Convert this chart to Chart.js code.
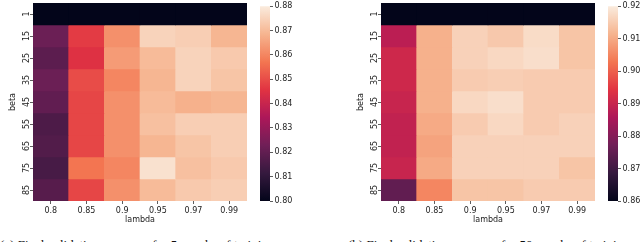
<!DOCTYPE html>
<html><head><meta charset="utf-8">
<script src="https://cdn.jsdelivr.net/npm/chart.js@4.4.0/dist/chart.umd.min.js"></script>
<style>
html,body{margin:0;padding:0;background:#fff;width:640px;height:242px;overflow:hidden;position:relative;}
canvas{position:absolute;top:0;}
.cap{position:absolute;top:238px;font-family:"Liberation Serif",serif;font-size:13px;line-height:13px;color:#111;white-space:nowrap;}
</style></head><body>
<canvas id="h1" width="250" height="228" style="left:0px"></canvas>
<canvas id="c1" width="60" height="228" style="left:255px"></canvas>
<canvas id="h2" width="250" height="228" style="left:348px"></canvas>
<canvas id="c2" width="60" height="228" style="left:603px"></canvas>
<div class="cap" style="left:0px">(a) Final validation accuracy for 5 epochs of training</div>
<div class="cap" style="left:348px">(b) Final validation accuracy for 50 epochs of training</div>
<script>
const lambdas = ['0.8', '0.85', '0.9', '0.95', '0.97', '0.99'];
const betas = ['1', '15', '25', '35', '45', '55', '65', '75', '85'];

const scoresA = [
  [0.800, 0.800, 0.800, 0.800, 0.800, 0.800],
  [0.822, 0.847, 0.862, 0.875, 0.874, 0.869],
  [0.819, 0.845, 0.864, 0.870, 0.875, 0.873],
  [0.822, 0.850, 0.860, 0.869, 0.875, 0.872],
  [0.820, 0.849, 0.862, 0.870, 0.868, 0.869],
  [0.816, 0.849, 0.862, 0.871, 0.874, 0.874],
  [0.817, 0.849, 0.862, 0.869, 0.872, 0.874],
  [0.815, 0.857, 0.860, 0.878, 0.871, 0.873],
  [0.818, 0.849, 0.862, 0.870, 0.873, 0.874]
];
const scoresB = [
  [0.860, 0.860, 0.860, 0.860, 0.860, 0.860],
  [0.888, 0.911, 0.916, 0.9146, 0.9176, 0.914],
  [0.891, 0.911, 0.916, 0.917, 0.918, 0.914],
  [0.891, 0.911, 0.915, 0.9155, 0.915, 0.915],
  [0.890, 0.911, 0.917, 0.918, 0.915, 0.915],
  [0.889, 0.910, 0.915, 0.917, 0.915, 0.916],
  [0.889, 0.909, 0.916, 0.916, 0.916, 0.916],
  [0.890, 0.910, 0.916, 0.916, 0.916, 0.914],
  [0.875, 0.905, 0.914, 0.914, 0.915, 0.915]
];
const rangeA = [0.80, 0.88];
const rangeB = [0.86, 0.92];
const ticksA = [0.80, 0.81, 0.82, 0.83, 0.84, 0.85, 0.86, 0.87, 0.88];
const ticksB = [0.86, 0.87, 0.88, 0.89, 0.90, 0.91, 0.92];

const rocketStops = [
  [0.000, [3, 5, 26]],
  [0.143, [53, 25, 62]],
  [0.286, [112, 31, 87]],
  [0.429, [173, 23, 89]],
  [0.571, [225, 51, 66]],
  [0.714, [243, 118, 81]],
  [0.857, [246, 180, 143]],
  [1.000, [250, 235, 221]]
];
function rocket(t) {
  t = Math.max(0, Math.min(1, t));
  for (let k = 1; k < rocketStops.length; k++) {
    const [t1, c1] = rocketStops[k];
    const [t0, c0] = rocketStops[k - 1];
    if (t <= t1) {
      const f = (t - t0) / (t1 - t0);
      const c = c0.map((v, n) => Math.round(v + (c1[n] - v) * f));
      return 'rgb(' + c.join(',') + ')';
    }
  }
  return 'rgb(250,235,221)';
}

const FONT = { family: 'DejaVu Sans', size: 8 };
const TXT = '#222';
const TICKC = '#333';

function heatmap(id, scores, range) {
  const datasets = betas.map((b, i) => ({
    data: lambdas.map(() => [i - 0.5, i + 0.5]),
    backgroundColor: scores[i].map(v => rocket((v - range[0]) / (range[1] - range[0]))),
    borderWidth: 0,
    grouped: false,
    barPercentage: 1,
    categoryPercentage: 1
  }));
  new Chart(document.getElementById(id), {
    type: 'bar',
    data: { labels: lambdas, datasets },
    options: {
      responsive: false, animation: false, devicePixelRatio: 1,
      layout: { padding: { top: 3, right: 3, left: 0, bottom: 0 } },
      plugins: { legend: { display: false }, tooltip: { enabled: false } },
      scales: {
        x: {
          type: 'category', offset: true,
          grid: { display: true, offset: false, drawOnChartArea: false, tickLength: 3, tickColor: TICKC, tickWidth: 0.8 },
          border: { display: false },
          ticks: { color: TXT, font: FONT, padding: 2, maxRotation: 0, minRotation: 0, autoSkip: false },
          title: { display: true, text: 'lambda', color: TXT, font: FONT, padding: { top: 0, bottom: 3 } },
          afterFit: s => { s.height = 27; }
        },
        y: {
          type: 'linear', reverse: true, min: -0.5, max: 8.5,
          afterBuildTicks: s => { s.ticks = betas.map((_, i) => ({ value: i })); },
          grid: { display: true, drawOnChartArea: false, tickLength: 3, tickColor: TICKC, tickWidth: 0.8 },
          border: { display: false },
          ticks: { color: TXT, font: FONT, callback: v => betas[v], minRotation: 90, maxRotation: 90, crossAlign: 'center', padding: -2.5, autoSkip: false },
          title: { display: true, text: 'beta', color: TXT, font: FONT, padding: { top: 8, bottom: 0 } },
          afterFit: s => { s.width = 33; }
        }
      }
    }
  });
}

function colorbar(id, range, ticks) {
  new Chart(document.getElementById(id), {
    type: 'bar',
    data: {
      labels: [''],
      datasets: [{
        data: [[range[0], range[1]]],
        backgroundColor: ctx => {
          const ca = ctx.chart.chartArea;
          if (!ca) return '#000';
          const g = ctx.chart.ctx.createLinearGradient(0, ca.bottom, 0, ca.top);
          rocketStops.forEach(([t, c]) => g.addColorStop(t, 'rgb(' + c.join(',') + ')'));
          return g;
        },
        borderWidth: 0, barPercentage: 1, categoryPercentage: 1
      }]
    },
    options: {
      responsive: false, animation: false, devicePixelRatio: 1,
      layout: { padding: { top: 3, bottom: 27, left: 5, right: 0 } },
      plugins: { legend: { display: false }, tooltip: { enabled: false } },
      scales: {
        x: { display: false },
        y: {
          position: 'right', min: range[0], max: range[1],
          afterBuildTicks: s => { s.ticks = ticks.map(v => ({ value: v })); },
          grid: { display: true, drawOnChartArea: false, tickLength: 3, tickColor: TICKC, tickWidth: 0.8 },
          border: { display: false },
          ticks: { color: TXT, font: FONT, padding: 1.5, callback: v => Number(v).toFixed(2), autoSkip: false },
          afterFit: s => { s.width = 45; }
        }
      }
    }
  });
}

heatmap('h1', scoresA, rangeA);
colorbar('c1', rangeA, ticksA);
heatmap('h2', scoresB, rangeB);
colorbar('c2', rangeB, ticksB);
</script>
</body></html>
